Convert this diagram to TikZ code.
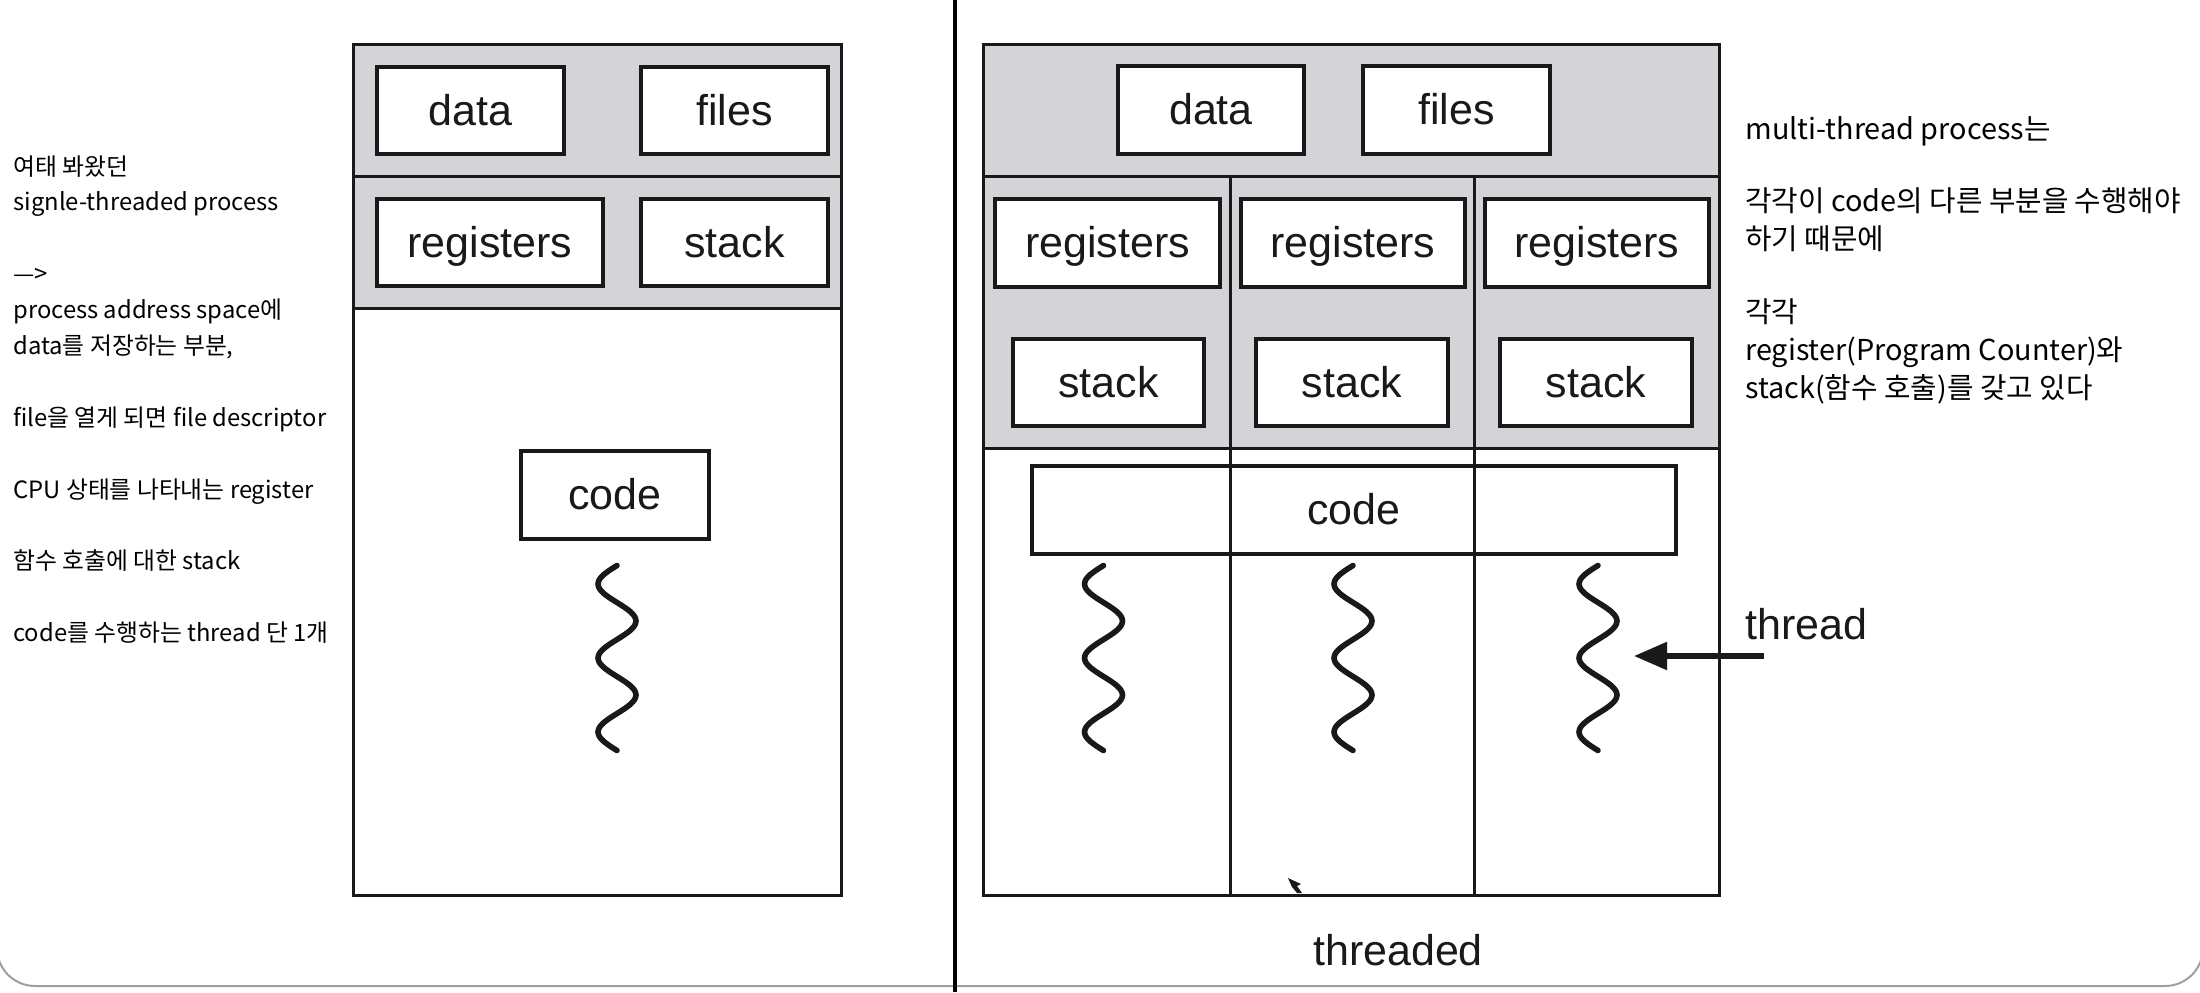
\documentclass[tikz,border=0pt]{standalone}
\usepackage{fontspec}
\newfontfamily\kr{Noto Sans CJK KR}
\newfontfamily\lab{Liberation Sans}
\usetikzlibrary{arrows.meta}
\definecolor{band}{RGB}{212,211,215}
\definecolor{ink}{RGB}{25,25,25}
\tikzset{
  box/.style={draw=ink, line width=1.6pt, fill=white, inner sep=0pt,
    font=\lab\fontsize{21.5pt}{26pt}\selectfont, text=ink,
    text height=16pt, text depth=1.5pt},
  frame/.style={draw=ink, line width=1.5pt},
  squig/.style={draw=ink, line width=2.8pt, line cap=round},
  lbl/.style={inner sep=0pt, font=\lab\fontsize{21.5pt}{26pt}\selectfont, text=ink},
  notesL/.style={inner sep=0pt, align=left, anchor=north west, text=black,
    font=\kr\fontsize{11.9pt}{17.95pt}\selectfont},
  notesR/.style={inner sep=0pt, align=left, anchor=north west, text=black,
    font=\kr\fontsize{14.4pt}{18.9pt}\selectfont},
}
\begin{document}
\begin{tikzpicture}[x=0.5pt,y=-0.5pt]
\useasboundingbox (0,0) rectangle (2200,992);

% page frame and divider
\draw[gray!75, line width=1pt, rounded corners=19pt] (-3,880) -- (-3,986) -- (2203,986) -- (2203,880);
\draw[black, line width=2pt] (955,0) -- (955,992);

% ---------- left (single-threaded) ----------
\fill[band] (353,44) rectangle (841,308);
\draw[frame] (353,44) rectangle (841,895);
\draw[frame] (353,176) -- (841,176);
\draw[frame] (353,308) -- (841,308);
\node[box, minimum width=93.5pt, minimum height=43.5pt] (ldata)  at (470.5,110.5) {data};
\node[box, minimum width=93.5pt, minimum height=43.5pt] (lfiles) at (734.5,110.5) {files};
\node[box, minimum width=113pt,  minimum height=43.5pt] (lreg)   at (490,242.5) {registers};
\node[box, minimum width=93.5pt, minimum height=43.5pt] (lstack) at (734.5,242.5) {stack};
\node[box, minimum width=94pt,   minimum height=44pt]   (lcode)  at (615,495) {code};
\draw[squig] plot[smooth, domain=-0.5:4.5, samples=41] ({617-19*cos(180*\x)},{584+37*\x});

% ---------- right (multithreaded) ----------
\fill[band] (983,44) rectangle (1719,448);
\draw[frame] (983,44) rectangle (1719,895);
\draw[frame] (983,176) -- (1719,176);
\draw[frame] (983,448) -- (1719,448);
\node[box, minimum width=93pt,   minimum height=44pt] (rdata)  at (1211,110) {data};
\node[box, minimum width=93.5pt, minimum height=44pt] (rfiles) at (1456.5,110) {files};
\node[box, minimum width=112.5pt, minimum height=44pt] (rreg1) at (1107.5,243) {registers};
\node[box, minimum width=112pt,  minimum height=44pt] (rreg2)  at (1353,243) {registers};
\node[box, minimum width=112pt,  minimum height=44pt] (rreg3)  at (1597,243) {registers};
\node[box, minimum width=95.5pt, minimum height=43.5pt] (rstack1) at (1108.5,382.5) {stack};
\node[box, minimum width=96pt,   minimum height=43.5pt] (rstack2) at (1352,382.5) {stack};
\node[box, minimum width=96pt,   minimum height=43.5pt] (rstack3) at (1596,382.5) {stack};
\node[box, minimum width=322pt,  minimum height=44pt] (rcode)  at (1354,510) {code};
\draw[frame] (1230,176) -- (1230,895);
\draw[frame] (1474,176) -- (1474,895);
\draw[squig] plot[smooth, domain=-0.5:4.5, samples=41] ({1103.5-19*cos(180*\x)},{584+37*\x});
\draw[squig] plot[smooth, domain=-0.5:4.5, samples=41] ({1353-19*cos(180*\x)},{584+37*\x});
\draw[squig] plot[smooth, domain=-0.5:4.5, samples=41] ({1598-19*cos(180*\x)},{584+37*\x});

% small pointer mark
\fill[ink] (1288,878) -- (1301,884) -- (1297,886) -- (1302,893) -- (1297,893) -- (1292,887) -- cycle;

% thread label and arrow
\node[lbl, anchor=base west] (threadlbl) at (1745,639) {thread};
\coordinate (arrowstart) at (1764,656);
\coordinate (arrowend) at (1634,656);
\draw[ink, line width=2.6pt, -{Triangle[length=16.5pt,width=13.5pt]}] (arrowstart) -- (arrowend);

\node[lbl, anchor=base] (threadedlbl) at (1398,965) {threaded};

% ---------- notes ----------
\node[notesL] (leftnotes) at (13,155) {여태 봐왔던\\
signle-threaded process\\[17.95pt]
—>\\
process address space에\\
data를 저장하는 부분,\\[17.95pt]
file을 열게 되면 file descriptor\\[17.95pt]
CPU 상태를 나타내는 register\\[17.95pt]
함수 호출에 대한 stack\\[17.95pt]
code를 수행하는 thread 단 1개};

\node[notesR] (rightnotes) at (1745,116) {multi-thread process는\\[17.4pt]
각각이 code의 다른 부분을 수행해야\\
하기 때문에\\[17.6pt]
각각\\
register(Program Counter)와\\
stack(함수 호출)를 갖고 있다};
\end{tikzpicture}
\end{document}
